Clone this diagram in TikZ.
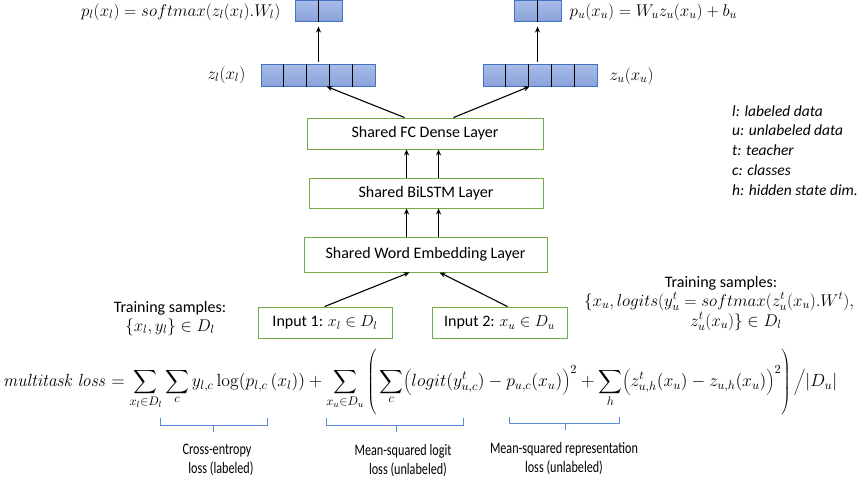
\RequirePackage{fix-cm}
\documentclass[tikz,border=0pt]{standalone}
\usepackage[no-math]{fontspec}
\setmainfont{Carlito}
\usepackage{graphicx}
\usetikzlibrary{arrows.meta,calc}
\definecolor{vecedge}{RGB}{68,114,196}
\definecolor{vectop}{RGB}{168,188,230}
\definecolor{vecbot}{RGB}{138,163,218}
\definecolor{boxgreen}{RGB}{112,173,71}
\definecolor{braceblue}{RGB}{91,141,214}
\newcommand{\BigSum}{\mathop{\vcenter{\hbox{\scalebox{1.5}{$\displaystyle\sum$}}}}\limits}
\newcommand{\squeezed}[1]{\scalebox{0.76}[1]{#1}}
\begin{document}
\begin{tikzpicture}[x=1pt,y=-1pt,
  every node/.style={font=\fontsize{16}{19}\selectfont, inner sep=0pt},
  arr/.style={-{Stealth[length=6pt,width=5pt]}, line width=1.1pt},
  layer/.style={draw=boxgreen, line width=0.9pt},
  vec/.style={draw=vecedge, line width=1pt, top color=vectop, bottom color=vecbot},
  cellline/.style={line width=1.4pt},
  bracket/.style={draw=braceblue, line width=1pt},
  legend/.style={anchor=base west, font=\fontsize{15.5}{19}\selectfont\itshape},
  mathlab/.style={font=\fontsize{17}{20}\selectfont}]
\useasboundingbox (0,0) rectangle (863,482);

% output vectors
\node[vec, minimum width=47pt, minimum height=20.5pt] (sl) at (318.5,10.8) {};
\node[vec, minimum width=47pt, minimum height=20.5pt] (sr) at (537.5,10.8) {};
\node[vec, minimum width=114pt, minimum height=22pt] (vl) at (318,75) {};
\node[vec, minimum width=114pt, minimum height=22pt] (vr) at (540,75) {};
\draw[cellline] (sl.north) -- (sl.south);
\draw[cellline] (sr.north) -- (sr.south);
\foreach \k in {1,2,3,4} {
  \draw[cellline] ($(vl.north west)!\k/5!(vl.north east)$) -- ($(vl.south west)!\k/5!(vl.south east)$);
  \draw[cellline] ($(vr.north west)!\k/5!(vr.north east)$) -- ($(vr.south west)!\k/5!(vr.south east)$);
}

% layers
\node[layer, minimum width=236pt, minimum height=31pt] (fc) at (425,133.5) {Shared FC Dense Layer};
\node[layer, minimum width=234pt, minimum height=30pt] (bil) at (426,193) {Shared BiLSTM Layer};
\node[layer, minimum width=243pt, minimum height=35pt] (emb) at (425.5,254.5) {Shared Word Embedding Layer};
\node[layer, minimum width=134pt, minimum height=31pt] (in1) at (325,322.5) {Input 1: $x_l \in D_l$};
\node[layer, minimum width=135pt, minimum height=31pt] (in2) at (499.5,322.5) {Input 2: $x_u \in D_u$};

% arrows
\draw[arr, shorten >=5pt, shorten <=2pt] (vl.north -| sl.south) -- (sl.south);
\draw[arr, shorten >=5pt, shorten <=2pt] (vr.north -| sr.south) -- (sr.south);
\draw[arr] ($(fc.north west)+(98,0)$) -- ($(vl.south west)+(66,0)$);
\draw[arr] ($(fc.north west)+(147,0)$) -- ($(vr.south west)+(47,0)$);
\draw[arr] ($(bil.north west)+(98,0)$) coordinate (b1) -- (b1 |- fc.south);
\draw[arr] ($(bil.north west)+(130,0)$) coordinate (b2) -- (b2 |- fc.south);
\draw[arr] ($(emb.north west)+(103,0)$) coordinate (e1) -- (e1 |- bil.south);
\draw[arr] ($(emb.north west)+(135,0)$) coordinate (e2) -- (e2 |- bil.south);
\draw[arr] ($(in1.north west)+(67,0)$) -- ($(emb.south west)+(106,0)$);
\draw[arr] ($(in2.north west)+(76,0)$) -- ($(emb.south west)+(136,0)$);

% vector labels
\node[mathlab, anchor=east] (plab) at ($(sl.west)+(-14,1)$) {$p_l(x_l) = softmax(z_l(x_l).W_l)$};
\node[mathlab, anchor=west] (pu) at ($(sr.east)+(8,1)$) {$p_u(x_u) = W_u z_u(x_u) + b_u$};
\node[mathlab, anchor=east] (zl) at ($(vl.west)+(-15,0)$) {$z_l(x_l)$};
\node[mathlab, anchor=west] (zu) at ($(vr.east)+(12,1)$) {$z_u(x_u)$};

% legend
\node[legend] (lg1) at (732,116) {l: labeled data};
\node[legend] (lg2) at (732,135.5) {u: unlabeled data};
\node[legend] (lg3) at (732,155) {t: teacher};
\node[legend] (lg4) at (732,175) {c: classes};
\node[legend] (lg5) at (732,195) {h: hidden state dim.};

% training samples
\node[anchor=base] (tl1) at (170,312) {Training samples:};
\node[anchor=base, mathlab] (tl2) at (170,331) {$\{x_l, y_l\} \in D_l$};
\node[anchor=base] (tr1) at (721,287) {Training samples:};
\node[anchor=base, mathlab] (tr2) at (719,306) {$\{x_u, logits\bigl(y_u^t = softmax(z_u^t(x_u).W^t\bigr),$};
\node[anchor=base, mathlab] (tr3) at (736,326) {$z_u^t(x_u)\} \in D_l$};

% loss formula
\node[anchor=west] (loss) at (3,382) {\resizebox{834pt}{!}{$\displaystyle
 \mathit{multitask\ loss} = \BigSum_{x_l\in D_l}\BigSum_{c} y_{l,c}\log(p_{l,c}\,(x_l)) + \BigSum_{x_u\in D_u}\left(\rule[-27pt]{0pt}{62pt}\BigSum_{c}\biggl(logit\bigl(y^t_{u,c}\bigr) - p_{u,c}(x_u)\biggr)^2 + \BigSum_{h}\biggl(z^t_{u,h}(x_u) - z_{u,h}(x_u)\biggr)^2\right)\bigg/|D_u|$}};

% brackets
\draw[bracket] (160,418) -- (160,425) -- (267,425) -- (267,418);
\draw[bracket] (213,425) -- (213,432);
\draw[bracket] (326,418) -- (326,425) -- (463,425) -- (463,418);
\draw[bracket] (396,425) -- (396,432);
\draw[bracket] (509,417) -- (509,423) -- (619,423) -- (619,417);
\draw[bracket] (565,423) -- (565,430);

% bracket labels
\node[anchor=base] (c1) at (217,454) {\squeezed{Cross-entropy}};
\node[anchor=base] (c2) at (221,473) {\squeezed{loss (labeled)}};
\node[anchor=base] (m1) at (403,455) {\squeezed{Mean-squared logit}};
\node[anchor=base] (m2) at (408,474) {\squeezed{loss (unlabeled)}};
\node[anchor=base] (r1) at (564,453) {\squeezed{Mean-squared representation}};
\node[anchor=base] (r2) at (564,472) {\squeezed{loss (unlabeled)}};
\end{tikzpicture}
\end{document}
